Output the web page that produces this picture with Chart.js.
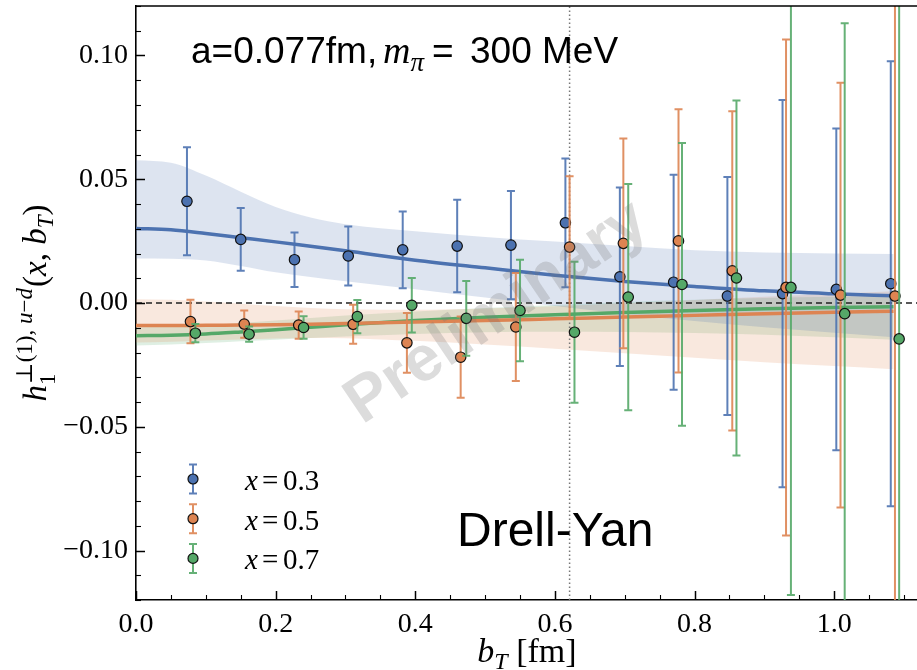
<!DOCTYPE html>
<html>
<head>
<meta charset="utf-8">
<script src="https://cdn.jsdelivr.net/npm/chart.js@4.4.1/dist/chart.umd.min.js"></script>
<style>
  html, body { margin: 0; padding: 0; background: #fff; overflow: hidden; }
  #wrap { width: 920px; height: 670px; }
</style>
</head>
<body>
<div id="wrap"><canvas id="c" width="920" height="670"></canvas></div>
<script>
// values
const bT_03 = [0.073, 0.150, 0.227, 0.304, 0.382, 0.460, 0.537, 0.615, 0.693, 0.770, 0.847, 0.926, 1.003, 1.081];
const h_03  = [0.0411, 0.0257, 0.0175, 0.0190, 0.0215, 0.0230, 0.0234, 0.0324, 0.0106, 0.0084, 0.0028, 0.0038, 0.0055, 0.0078];
const e_03  = [0.0218, 0.0127, 0.0110, 0.0119, 0.0155, 0.0187, 0.0219, 0.0260, 0.0361, 0.0434, 0.0481, 0.0782, 0.0650, 0.0899];

const bT_05 = [0.078, 0.155, 0.233, 0.311, 0.388, 0.465, 0.544, 0.621, 0.698, 0.777, 0.854, 0.931, 1.009, 1.087];
const h_05  = [-0.0075, -0.0085, -0.0089, -0.0086, -0.0161, -0.0219, -0.0097, 0.0226, 0.0241, 0.0251, 0.0130, 0.0063, 0.0032, 0.0028];
const e_05  = [0.0088, 0.0055, 0.0055, 0.0079, 0.0121, 0.0164, 0.0218, 0.0286, 0.0424, 0.0532, 0.0645, 0.1002, 0.0858, 0.1350];

const bT_07 = [0.085, 0.162, 0.240, 0.317, 0.395, 0.473, 0.550, 0.628, 0.705, 0.782, 0.860, 0.938, 1.015, 1.093];
const h_07  = [-0.0122, -0.0126, -0.0099, -0.0055, -0.0009, -0.0062, -0.0030, -0.0118, 0.0024, 0.0075, 0.0101, 0.0063, -0.0043, -0.0145];
const e_07  = [0.0037, 0.0031, 0.0045, 0.0067, 0.0110, 0.0151, 0.0205, 0.0285, 0.0457, 0.0571, 0.0717, 0.1243, 0.1173, 0.1400];

// fit curves and their bands
const fitX = [0, 0.05, 0.1, 0.15, 0.2, 0.25, 0.3, 0.4, 0.5, 0.6, 0.7, 0.8, 0.9, 1.0, 1.085];
const fit_03    = [0.0301, 0.0296, 0.0281, 0.0264, 0.0247, 0.0229, 0.0211, 0.0173, 0.0142, 0.0112, 0.0087, 0.0067, 0.0049, 0.0037, 0.0029];
const fit_03_hi = [0.0577, 0.0567, 0.0515, 0.0450, 0.0388, 0.0345, 0.0318, 0.0290, 0.0267, 0.0248, 0.0230, 0.0213, 0.0204, 0.0200, 0.0198];
const fit_03_lo = [0.0180, 0.0179, 0.0172, 0.0150, 0.0124, 0.0105, 0.0088, 0.0056, 0.0022, -0.0012, -0.0044, -0.0073, -0.0098, -0.0120, -0.0138];
const fit_05    = [-0.0091, -0.0091, -0.0090, -0.0089, -0.0088, -0.0086, -0.0083, -0.0077, -0.0071, -0.0064, -0.0057, -0.0050, -0.0043, -0.0037, -0.0033];
const fit_05_hi = [0.0015, 0.0013, 0.0006, -0.0003, -0.0012, -0.0020, -0.0025, -0.0027, -0.0022, -0.0013, -0.0001, 0.0012, 0.0025, 0.0037, 0.0047];
const fit_05_lo = [-0.0160, -0.0157, -0.0152, -0.0147, -0.0143, -0.0141, -0.0142, -0.0153, -0.0168, -0.0185, -0.0203, -0.0221, -0.0239, -0.0255, -0.0268];
const fit_07    = [-0.0132, -0.0130, -0.0125, -0.0117, -0.0108, -0.0098, -0.0088, -0.0071, -0.0058, -0.0047, -0.0038, -0.0030, -0.0023, -0.0018, -0.0015];
const fit_07_hi = [-0.0098, -0.0096, -0.0090, -0.0081, -0.0071, -0.0061, -0.0051, -0.0034, -0.0020, -0.0008, 0.0004, 0.0013, 0.0020, 0.0025, 0.0028];
const fit_07_lo = [-0.0172, -0.0168, -0.0162, -0.0155, -0.0148, -0.0141, -0.0135, -0.0125, -0.0118, -0.0116, -0.0117, -0.0121, -0.0128, -0.0138, -0.0148];

const xRange = [0, 1.12];
const yRange = [-0.12, 0.12];
const bTcut = 0.621;   // dotted vertical line

const series = [
  { label: '0.3', color: '#4c72b0', rgb: '76,114,176', bT: bT_03, h: h_03, e: e_03, fit: fit_03, hi: fit_03_hi, lo: fit_03_lo },
  { label: '0.5', color: '#dd8452', rgb: '221,132,82', bT: bT_05, h: h_05, e: e_05, fit: fit_05, hi: fit_05_hi, lo: fit_05_lo },
  { label: '0.7', color: '#55a868', rgb: '85,168,104', bT: bT_07, h: h_07, e: e_07, fit: fit_07, hi: fit_07_hi, lo: fit_07_lo }
];

const SERIF = "'Liberation Serif', 'Times New Roman', 'DejaVu Serif', serif";
const SANS = "'Liberation Sans', Arial, sans-serif";

const pts = (xs, ys) => xs.map((x, i) => ({ x: x, y: ys[i] }));

const datasets = [];
// bands (upper fills to the lower one)
series.forEach(s => {
  datasets.push({ data: pts(fitX, s.hi), borderWidth: 0, pointRadius: 0, cubicInterpolationMode: 'monotone',
    backgroundColor: 'rgba(' + s.rgb + ',0.19)', fill: '+1', order: 50 });
  datasets.push({ data: pts(fitX, s.lo), borderWidth: 0, pointRadius: 0, cubicInterpolationMode: 'monotone',
    fill: false, order: 50 });
});
// reference lines
datasets.push({ data: [{ x: xRange[0], y: 0 }, { x: xRange[1], y: 0 }], borderColor: '#222', borderWidth: 1.3,
  borderDash: [6, 4], pointRadius: 0, fill: false, order: 40 });
datasets.push({ data: [{ x: bTcut, y: yRange[0] }, { x: bTcut, y: yRange[1] }], borderColor: '#777', borderWidth: 1.5,
  borderDash: [1.5, 2.5], pointRadius: 0, fill: false, order: 40 });
// fit curves
series.forEach(s => {
  datasets.push({ data: pts(fitX, s.fit), borderColor: s.color, borderWidth: 3.5, pointRadius: 0,
    cubicInterpolationMode: 'monotone', fill: false, order: 30 });
});
// lattice points
series.forEach((s, k) => {
  datasets.push({ data: pts(s.bT, s.h), errors: s.e, barColor: 'rgba(' + s.rgb + ',0.9)', showLine: false,
    pointRadius: 5.2, pointBorderWidth: 1.2, pointBackgroundColor: s.color, pointBorderColor: '#111',
    fill: false, order: 3 - k });
});

const errorBars = {
  id: 'errorBars',
  beforeDatasetDraw(chart, args) {
    const ds = chart.data.datasets[args.index];
    if (!ds.errors) return;
    const { ctx, chartArea: a, scales: { x, y } } = chart;
    ctx.save();
    ctx.beginPath();
    ctx.rect(a.left, a.top, a.right - a.left, a.bottom - a.top);
    ctx.clip();
    ctx.strokeStyle = ds.barColor;
    ctx.lineWidth = 2;
    ds.data.forEach((p, i) => {
      const px = x.getPixelForValue(p.x);
      const top = y.getPixelForValue(p.y + ds.errors[i]);
      const bot = y.getPixelForValue(p.y - ds.errors[i]);
      ctx.beginPath();
      ctx.moveTo(px, top); ctx.lineTo(px, bot);
      ctx.moveTo(px - 4, top); ctx.lineTo(px + 4, top);
      ctx.moveTo(px - 4, bot); ctx.lineTo(px + 4, bot);
      ctx.stroke();
    });
    ctx.restore();
  }
};

// draw text made of runs: [text, font, dy, x]
function runs(ctx, list, x, y) {
  let cx = x;
  list.forEach(r => {
    ctx.font = r[1];
    if (r[3] !== undefined) cx = r[3];
    ctx.fillText(r[0], cx, y + (r[2] || 0));
    cx += ctx.measureText(r[0]).width;
  });
  return cx;
}

function yLabel(ctx, draw) {
  const it = 'italic 33px ' + SERIF, rm = '33px ' + SERIF;
  const sit = 'italic 23px ' + SERIF, srm = '23px ' + SERIF;
  let cx = 0;
  const put = (t, f, dy) => { ctx.font = f; if (draw) ctx.fillText(t, cx, dy); cx += ctx.measureText(t).width; };
  put('h', it, 0);
  const s0 = cx;
  put('1', srm, 9);
  const subEnd = cx;
  cx = s0 + 1;
  put('\u22a5(1), ', srm, -14); put('u', sit, -14); put('\u2212', srm, -14); put('d', sit, -14);
  cx = Math.max(cx, subEnd) + 1;
  put('(', rm, 0); put('x', it, 0); put(', ', rm, 0); put('b', it, 0); put('T', sit, 7); put(')', rm, 0);
  return cx;
}

const decor = {
  id: 'decor',
  afterDatasetsDraw(chart) {
    const { ctx } = chart;
    // watermark
    ctx.save();
    ctx.translate(497, 313);
    ctx.rotate(-34 * Math.PI / 180);
    ctx.font = 'bold 64px ' + SANS;
    ctx.fillStyle = 'rgba(120,120,120,0.26)';
    ctx.textAlign = 'center';
    ctx.textBaseline = 'middle';
    ctx.fillText('Preliminary', 0, 0);
    ctx.restore();
  },
  afterDraw(chart) {
    const { ctx, chartArea: a, scales: { x, y } } = chart;
    ctx.save();
    ctx.strokeStyle = '#000';
    // inward ticks
    for (let i = 0; i * 0.05 <= xRange[1]; i++) {
      const px = Math.round(x.getPixelForValue(i * 0.05)) + 0.5;
      const major = i % 4 === 0;
      ctx.lineWidth = major ? 1.5 : 1.1;
      ctx.beginPath(); ctx.moveTo(px, a.bottom); ctx.lineTo(px, a.bottom - (major ? 9 : 5)); ctx.stroke();
    }
    for (let i = -12; i <= 12; i++) {
      const py = Math.round(y.getPixelForValue(i * 0.01)) + 0.5;
      const major = i % 5 === 0;
      ctx.lineWidth = major ? 1.5 : 1.1;
      ctx.beginPath(); ctx.moveTo(a.left, py); ctx.lineTo(a.left + (major ? 9 : 5), py); ctx.stroke();
    }
    // top spine
    ctx.lineWidth = 1.6;
    ctx.beginPath(); ctx.moveTo(a.left, a.top); ctx.lineTo(a.right, a.top); ctx.stroke();

    ctx.fillStyle = '#000';
    ctx.textBaseline = 'alphabetic';
    // title
    runs(ctx, [['a=0.077fm,', '37px ' + SANS, 0, 191], ['m', 'italic 38px ' + SERIF, 0, 383],
      ['\u03c0', 'italic 27px ' + SERIF, 8], ['=', '37px ' + SANS, 0, 432], ['300 MeV', '37px ' + SANS, 0, 470]], 0, 63);
    // process label
    ctx.font = '48px ' + SANS;
    ctx.fillText('Drell-Yan', 457, 546);

    // legend
    series.forEach((s, k) => {
      const lx = 193, ly = 479 + k * 39.7;
      ctx.strokeStyle = 'rgba(' + s.rgb + ',0.9)';
      ctx.lineWidth = 2;
      ctx.beginPath();
      ctx.moveTo(lx, ly - 14.5); ctx.lineTo(lx, ly + 14.5);
      ctx.moveTo(lx - 4, ly - 14.5); ctx.lineTo(lx + 4, ly - 14.5);
      ctx.moveTo(lx - 4, ly + 14.5); ctx.lineTo(lx + 4, ly + 14.5);
      ctx.stroke();
      ctx.beginPath(); ctx.arc(lx, ly, 5, 0, 2 * Math.PI);
      ctx.fillStyle = s.color; ctx.fill();
      ctx.strokeStyle = '#111'; ctx.lineWidth = 1.2; ctx.stroke();
      ctx.fillStyle = '#000';
      runs(ctx, [['x', 'italic 29px ' + SERIF, 0, 245], ['=', '29px ' + SERIF, 0, 262], [s.label, '29px ' + SERIF, 0, 283]], 0, ly + 11);
    });

    // x axis title
    const xt = [['b', 'italic 34px ' + SERIF, 0], ['T', 'italic 24px ' + SERIF, 7], [' [fm]', '34px ' + SERIF, 0]];
    let w = 0;
    xt.forEach(r => { ctx.font = r[1]; w += ctx.measureText(r[0]).width; });
    runs(ctx, xt, (a.left + a.right) / 2 - w / 2, 662);

    // y axis title
    ctx.save();
    ctx.translate(46, (a.top + a.bottom) / 2);
    ctx.rotate(-Math.PI / 2);
    const len = yLabel(ctx, false);
    ctx.translate(-len / 2, 0);
    yLabel(ctx, true);
    ctx.restore();
    ctx.restore();
  }
};

new Chart(document.getElementById('c'), {
  type: 'line',
  data: { datasets: datasets },
  options: {
    responsive: false,
    animation: false,
    devicePixelRatio: 1,
    layout: { autoPadding: false, padding: { top: 6, right: 2, left: 0, bottom: 0 } },
    plugins: { legend: { display: false }, tooltip: { enabled: false } },
    elements: { line: { tension: 0 } },
    scales: {
      x: {
        type: 'linear', min: xRange[0], max: xRange[1],
        grid: { display: false, drawTicks: false },
        border: { display: true, color: '#000', width: 1.6 },
        ticks: { stepSize: 0.2, includeBounds: false, padding: 8, color: '#000',
          font: { family: SERIF, size: 28 }, maxRotation: 0,
          callback: v => v.toFixed(1) },
        afterFit: s => { s.height = 70; s.paddingLeft = 0; s.paddingRight = 0; }
      },
      y: {
        type: 'linear', min: yRange[0], max: yRange[1],
        grid: { display: false, drawTicks: false },
        border: { display: true, color: '#000', width: 1.6 },
        ticks: { stepSize: 0.05, includeBounds: false, padding: 8, color: '#000',
          font: { family: SERIF, size: 28 },
          callback: v => (v < -1e-9 ? '\u2212' : '') + Math.abs(v).toFixed(2) },
        afterFit: s => { s.width = 136; s.paddingTop = 0; s.paddingBottom = 0; }
      }
    }
  },
  plugins: [errorBars, decor]
});
</script>
</body>
</html>
